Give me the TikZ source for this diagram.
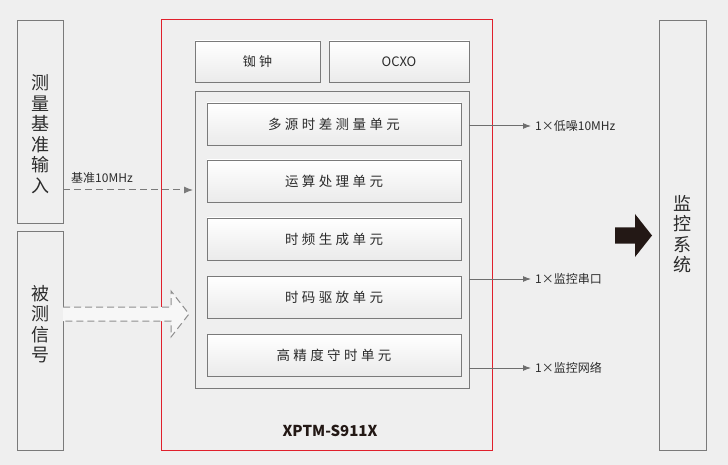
\documentclass[tikz,border=0pt]{standalone}
\usepackage{fontspec}
\setmainfont{Noto Sans CJK SC}
\usetikzlibrary{arrows.meta,shapes.arrows}
\definecolor{bg}{HTML}{EFEFEF}
\definecolor{edge}{HTML}{7A7A7A}
\definecolor{txt}{HTML}{2B2B2B}
\definecolor{redline}{HTML}{E0202C}
\definecolor{blk}{HTML}{231815}
\newcommand{\gp}{\hspace{3.4pt}}
\tikzset{
  tall/.style={draw=edge, line width=0.9pt, fill=bg, inner sep=0pt},
  unitbox/.style={draw=edge, line width=0.9pt, top color=white, bottom color=black!8, inner sep=0pt},
  lbl/.style={text=txt, font=\fontsize{12}{14}\selectfont, inner sep=0pt},
  vlbl/.style={text=txt, font=\fontsize{18}{20.5}\selectfont, align=center, inner sep=0pt},
  outarrow/.style={draw=edge!90!black, line width=1pt, -{Latex[length=8pt,width=6pt]}},
}
\begin{document}
\begin{tikzpicture}[x=1pt,y=-1pt]
\fill[bg] (0,0) rectangle (728,465);
\useasboundingbox (0,0) rectangle (728,465);
% left boxes
\node[tall, minimum width=46pt, minimum height=203pt] (ref) at (40,121.5) {};
\node[vlbl] at (40,134) {测\\量\\基\\准\\输\\入};
\node[tall, minimum width=46pt, minimum height=219pt] (dut) at (40,340.5) {};
\node[vlbl] at (40,324) {被\\测\\信\\号};
% right box
\node[tall, minimum width=47pt, minimum height=430pt] (mon) at (682.5,235) {};
\node[vlbl] at (682.5,234) {监\\控\\系\\统};
% red box
\node[draw=redline, line width=1pt, minimum width=331pt, minimum height=430pt, inner sep=0pt] (dev) at (326.5,235) {};
\node[text=blk, font=\bfseries\fontsize{15}{18}\selectfont] (model) at (330,431) {XPTM-S911X};
% top boxes
\node[unitbox, minimum width=125pt, minimum height=41pt] (rb) at (257.5,61.5) {};
\node[lbl, font=\fontsize{13}{15}\selectfont] at (rb) {铷\gp 钟};
\node[unitbox, minimum width=140pt, minimum height=41pt] (ocxo) at (399,61.5) {};
\node[lbl, font=\fontsize{13}{15}\selectfont] at (ocxo) {OCXO};
% inner group
\node[draw=edge, line width=0.9pt, fill=bg, minimum width=274pt, minimum height=297pt, inner sep=0pt] (grp) at (332,239.5) {};
% unit boxes
\foreach \n/\y/\t in {u1/124/{多\gp 源\gp 时\gp 差\gp 测\gp 量\gp 单\gp 元},
                     u2/181/{运\gp 算\gp 处\gp 理\gp 单\gp 元},
                     u3/239/{时\gp 频\gp 生\gp 成\gp 单\gp 元},
                     u4/297/{时\gp 码\gp 驱\gp 放\gp 单\gp 元},
                     u5/355/{高\gp 精\gp 度\gp 守\gp 时\gp 单\gp 元}}{
  \node[unitbox, minimum width=254pt, minimum height=42pt] (\n) at (334,\y) {};
  \node[lbl, font=\fontsize{13.5}{15}\selectfont] at (\n) {\t};
}
% reference dashed arrow
\coordinate (refout) at (63,190);
\coordinate (refin) at (193,190);
\draw[edge, line width=1pt, dash pattern=on 7pt off 4pt, -{Latex[length=9pt,width=7pt]}] (refout) -- (refin);
\node[lbl, anchor=south west] at (71,184) {基准10MHz};
% hollow dashed big arrow
\draw[edge!85, line width=1pt, dash pattern=on 7pt off 4pt, fill=white!50!bg]
  (63,307) -- (171,307) -- (171,291) -- (189,314) -- (171,337) -- (171,321) -- (63,321);
% output arrows
\coordinate (o1) at (531,126);
\coordinate (o2) at (531,279);
\coordinate (o3) at (531,368);
\draw[outarrow] (grp.east |- o1) -- (o1);
\draw[outarrow] (grp.east |- o2) -- (o2);
\draw[outarrow] (grp.east |- o3) -- (o3);
\node[lbl, anchor=west] at (535,126) {1×低噪10MHz};
\node[lbl, anchor=west] at (535,279) {1×监控串口};
\node[lbl, anchor=west] at (535,368) {1×监控网络};
% black block arrow
\fill[blk] (615,227.5) -- (635,227.5) -- (635,214) -- (652,235.5) -- (635,257) -- (635,243.5) -- (615,243.5) -- cycle;
\end{tikzpicture}
\end{document}
